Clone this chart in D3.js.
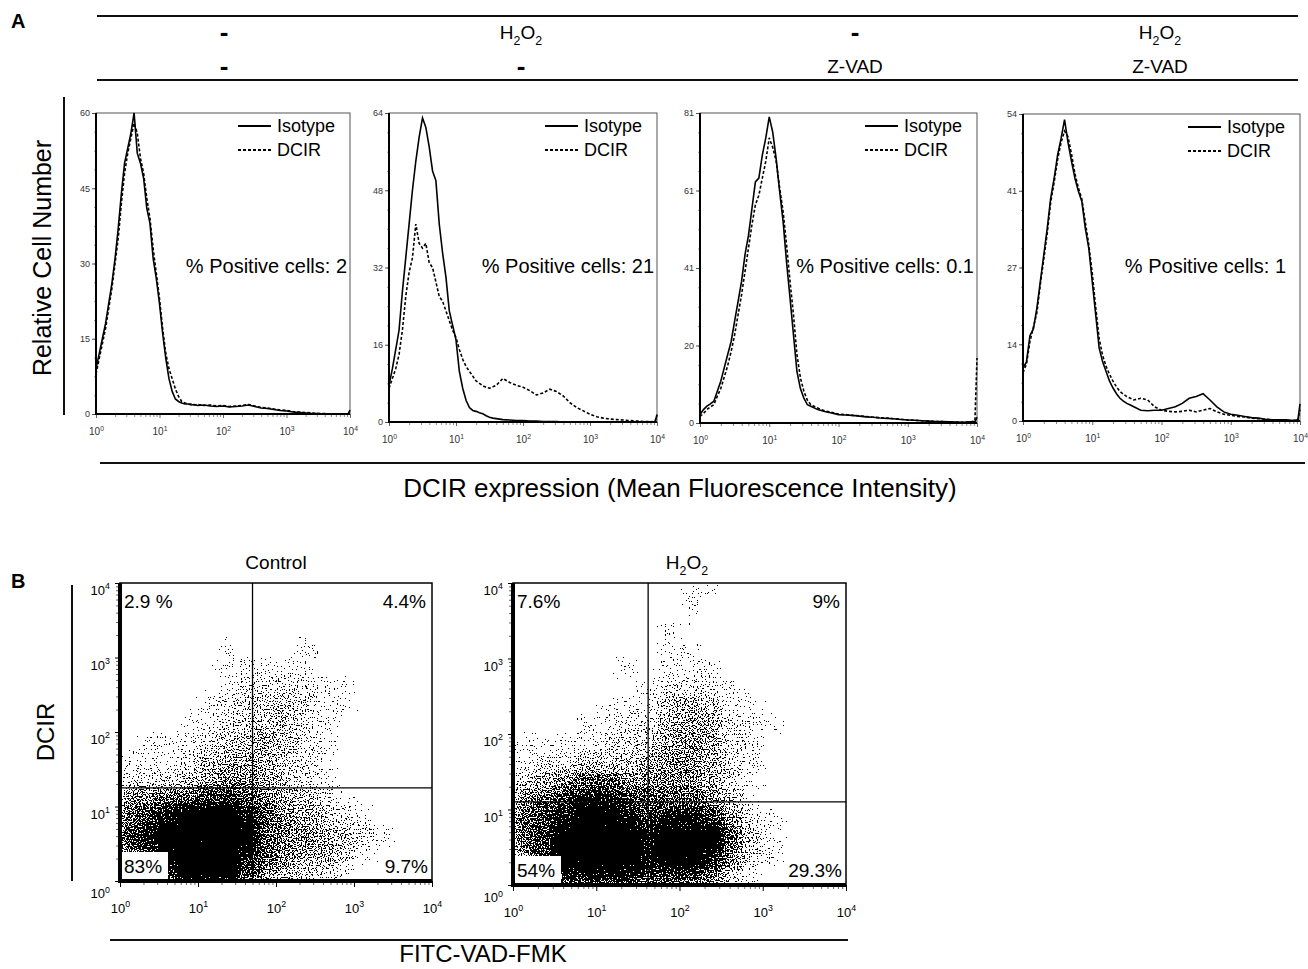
<!DOCTYPE html>
<html>
<head>
<meta charset="utf-8">
<script src="https://cdn.jsdelivr.net/npm/d3@7"></script>
<style>
  body { margin: 0; background: #fff; }
  svg { font-family: "Liberation Sans", Arial, sans-serif; }
</style>
</head>
<body>
<script>
const W = 1308, H = 969;

// ---------- data ----------
// histogram x positions, as log10 of intensity
const histLogX = [0,0.05,0.1,0.15,0.2,0.25,0.3,0.35,0.4,0.45,0.5,0.55,0.6,0.65,0.7,0.75,0.8,0.85,0.9,0.95,1.0,1.05,1.1,1.15,1.2,1.25,1.3,1.35,1.4,1.45,1.5,1.55,1.6,
  1.7,1.8,1.9,2.0,2.1,2.2,2.3,2.4,2.5,2.6,2.7,2.8,2.9,3.0,3.1,3.2,3.3,3.4,3.5,3.6,3.7,3.8,3.9,
  3.97,4.0];

const isoCtrl = [9,12,15,18,22,26,31,37,44,50,53,56,60,52,50,47,41,38,31,27,22,16,11,7,4.5,3,2.5,2.2,2,2,1.8,1.9,1.7,
  1.8,1.6,1.5,1.6,1.4,1.5,1.6,1.8,1.5,1.2,1.1,0.9,0.7,0.6,0.4,0.3,0.2,0.1,0.1,0,0,0,0,
  0,0.8];
const dcirCtrl = [8,11,14,17,21,25,30,35,42,48,52,55,58,56,51,48,43,39,33,28,23,17,12,9,7,5,3.5,2.5,2.2,2,2,1.8,1.9,
  1.7,1.8,1.6,1.7,1.5,1.6,1.7,1.9,1.6,1.3,1.2,1.0,0.8,0.7,0.5,0.4,0.3,0.2,0.1,0.1,0,0,0,
  0,0.6];
const isoH2O2 = [7.6,11,15,19,27,34,41,48,54,59,63,61,57,52,50,41,35,30,23,20,17,10.5,7,4.5,3,2.4,2.2,1.9,1.7,1.3,1.0,0.8,0.7,
  0.5,0.4,0.3,0.3,0.2,0.2,0.1,0.1,0.1,0,0,0,0,0,0,0,0,0,0,0,0,0,0,
  0,1.5];
const dcirH2O2 = [7,9,11,14,19,26,31,34,41,37,36,37,33,32,29,26,25,23,21,19,17.5,15,13,11.5,10.5,9.5,8.5,8,7.5,7.2,7,7.3,7.6,
  9,8.2,7.6,7.2,6.5,5.6,6,6.8,6.3,5.4,4,3,2.3,1.6,1.1,0.8,0.6,0.5,0.4,0.3,0.2,0.1,0.1,
  0,1.5];
const isoZvad = [2.2,3.5,4.4,5,5.7,8.3,10.9,14.4,17.9,21.3,26.6,31.8,37,44,49,56,63,64,70,74.5,80,76,69,60.5,52.7,42,32.7,23,13.5,9,6.5,4.8,4.4,
  3.5,3,2.6,2.2,2.1,2,1.8,1.6,1.5,1.3,1.2,1.1,0.9,0.8,0.7,0.6,0.5,0.4,0.35,0.3,0.25,0.2,0.3,
  0.3,1.5];
const dcirZvad = [1.7,2.5,3.5,4.2,4.8,7,9,12,15,18.7,23,28.3,33.5,39.6,45.7,51.8,57,59.5,64,68.4,74.5,72,68.4,61.4,55.3,46.6,37,28.3,17.9,11.8,8.3,6,4.8,
  3.9,3.2,2.8,2.3,2.2,2.0,1.9,1.7,1.5,1.4,1.3,1.1,1.0,0.8,0.7,0.6,0.5,0.4,0.35,0.3,0.25,0.2,0.3,
  0.5,17];
const isoBoth = [9.3,10.4,15,16.2,19.8,24.5,29.2,33.9,39.2,42.7,46.8,49.7,53,49,45.7,42.7,40.4,38.6,33.9,30.4,24.5,18.7,12.8,10.4,8.7,7,5.8,4.8,4,3.5,3.1,2.8,2.5,
  1.9,1.8,1.9,1.9,2.2,2.5,3.1,4,4.3,4.8,3.7,2.5,1.6,1.2,1.0,0.8,0.6,0.5,0.3,0.2,0.2,0.2,0.1,
  0.2,3];
const dcirBoth = [8.5,10,14,16.5,19,24,28.5,33,38.5,42,46,49,51,50,47,43.5,41,39,35,31,26,20,14.5,11.5,9.6,8.2,7,6,5.2,4.7,4.3,4,3.7,
  4,3.7,2.5,1.9,1.7,1.6,1.7,1.9,1.6,1.9,2.2,1.6,1.2,1.0,0.8,0.7,0.5,0.4,0.3,0.2,0.2,0.1,0.1,
  0.2,2];

const isotypeSeries = [isoCtrl, isoH2O2, isoZvad, isoBoth];
const dcirSeries = [dcirCtrl, dcirH2O2, dcirZvad, dcirBoth];
const histMax = [60, 64, 81, 54];
const histYLabels = [["0","15","30","45","60"], ["0","16","32","48","64"], ["0","20","41","61","81"], ["0","14","27","41","54"]];
const positiveCells = ["2", "21", "0.1", "1"];
const treatRow1 = ["-", "H2O2", "-", "H2O2"];
const treatRow2 = ["-", "-", "Z-VAD", "Z-VAD"];

// scatter density, 0.25-decade cells, rows from top (10^4) to bottom (10^0), levels 0-9
const controlDensity = [
  [0,0,0,0,0,0,0,0,0,0,0,0,0,0,0,0],
  [0,0,0,0,0,0,0,0,0,0,0,0,0,0,0,0],
  [0,0,0,0,0,0,0,0,0,0,0,0,0,0,0,0],
  [0,0,0,0,0,1,0,0,0,1,0,0,0,0,0,0],
  [0,0,0,0,0,1,1,1,1,1,0,0,0,0,0,0],
  [0,0,0,0,0,1,2,2,2,2,1,1,0,0,0,0],
  [0,0,0,0,1,2,2,3,3,2,1,1,0,0,0,0],
  [0,0,0,1,1,2,3,3,3,2,1,0,0,0,0,0],
  [0,1,1,1,2,3,3,4,3,2,1,0,0,0,0,0],
  [1,1,1,2,3,4,4,4,3,2,1,0,0,0,0,0],
  [2,2,2,3,4,5,5,4,3,2,1,0,0,0,0,0],
  [5,5,6,6,7,7,6,5,4,3,2,1,0,0,0,0],
  [6,7,8,9,9,9,8,6,5,4,3,2,1,0,0,0],
  [7,8,9,9,9,9,9,6,5,5,4,3,2,1,0,0],
  [6,7,9,9,9,9,8,6,5,4,4,3,1,0,0,0],
  [5,6,8,9,9,9,7,5,4,3,2,1,0,0,0,0]
];
const h2o2Density = [
  [0,0,0,0,0,0,0,0,1,1,0,0,0,0,0,0],
  [0,0,0,0,0,0,0,0,1,0,0,0,0,0,0,0],
  [0,0,0,0,0,0,0,1,0,0,0,0,0,0,0,0],
  [0,0,0,0,0,0,0,1,1,0,0,0,0,0,0,0],
  [0,0,0,0,0,1,0,1,1,1,0,0,0,0,0,0],
  [0,0,0,0,0,0,1,2,2,2,1,0,0,0,0,0],
  [0,0,0,0,1,1,1,3,4,3,1,1,0,0,0,0],
  [0,0,0,1,1,2,2,4,4,4,2,1,1,0,0,0],
  [1,1,1,1,2,2,3,4,5,4,2,1,0,0,0,0],
  [1,2,2,3,3,3,4,5,5,4,2,1,0,0,0,0],
  [3,4,5,6,6,5,5,5,5,4,2,1,0,0,0,0],
  [5,6,7,8,8,7,6,6,6,5,3,1,0,0,0,0],
  [6,7,8,9,9,8,7,8,8,7,5,2,1,0,0,0],
  [6,7,9,9,9,9,8,9,9,9,6,3,1,0,0,0],
  [5,7,9,9,9,9,8,9,9,8,5,2,1,0,0,0],
  [4,5,8,8,8,8,7,7,7,6,3,1,0,0,0,0]
];
const scatterDensity = [controlDensity, h2o2Density];
const scatterTitles = ["Control", "H2O2"];
const gateX = [50, 42];       // FITC-VAD-FMK gate
const gateY = [17.8, 12.6];   // DCIR gate
const quadLabels = [["2.9 %", "4.4%", "83%", "9.7%"], ["7.6%", "9%", "54%", "29.3%"]];
const decades = [1, 10, 100, 1000, 10000];

// ---------- layout ----------
const histPanels = [
  {left: 96, right: 350, top: 113, bottom: 414, head: 224},
  {left: 389, right: 657, top: 113, bottom: 422, head: 521},
  {left: 700, right: 977, top: 113, bottom: 423, head: 855},
  {left: 1023, right: 1300, top: 114, bottom: 421, head: 1160}
];
const scatterPanels = [
  {left: 120, right: 432, top: 583, bottom: 881, titleX: 276},
  {left: 513, right: 846, top: 583, bottom: 885, titleX: 687}
];

const svg = d3.select("body").append("svg")
  .attr("width", W)
  .attr("height", H);

const minorTicks = [];
for (let e = 0; e < 4; e++) for (let m = 2; m <= 9; m++) minorTicks.push(m * Math.pow(10, e));

// text with subscript digits (H2O2)
function subText(sel, str, fs) {
  let low = false;
  for (const ch of str) {
    const digit = /\d/.test(ch);
    const t = sel.append("tspan").text(ch);
    if (digit) t.attr("font-size", fs * 0.65);
    if (digit && !low) { t.attr("dy", fs * 0.3); low = true; }
    else if (!digit && low) { t.attr("dy", -fs * 0.3); low = false; }
  }
}
// 10 with superscript exponent
function powLabel(sel, d, fs) {
  sel.text(null);
  sel.append("tspan").text("10");
  sel.append("tspan").attr("dy", -fs * 0.45).attr("font-size", fs * 0.68).text(Math.round(Math.log10(d)));
}

// ---------- panel A header ----------
svg.append("text").attr("x", 11).attr("y", 28).attr("font-size", 20).attr("font-weight", "bold").text("A");
[16, 80].forEach(yy => svg.append("line")
  .attr("x1", 97).attr("x2", 1298).attr("y1", yy).attr("y2", yy)
  .attr("stroke", "#111").attr("stroke-width", 2));

histPanels.forEach((p, i) => {
  [[treatRow1[i], 39], [treatRow2[i], 73]].forEach(([lab, yy]) => {
    const t = svg.append("text").attr("x", p.head).attr("y", yy).attr("text-anchor", "middle");
    if (lab === "-") t.attr("font-size", 26).attr("font-weight", "bold").attr("dy", 2).text("-");
    else { t.attr("font-size", 19); subText(t, lab, 19); }
  });
});

// ---------- histograms ----------
svg.append("line").attr("x1", 64).attr("x2", 64).attr("y1", 97).attr("y2", 415)
  .attr("stroke", "#111").attr("stroke-width", 2);
svg.append("text")
  .attr("transform", "translate(51,258) rotate(-90)")
  .attr("text-anchor", "middle")
  .attr("font-size", 25)
  .text("Relative Cell Number");

histPanels.forEach((p, i) => {
  const x = d3.scaleLog().domain([1, 1e4]).range([p.left, p.right]);
  const y = d3.scaleLinear().domain([0, histMax[i]]).range([p.bottom, p.top]);
  const g = svg.append("g");

  // minor x ticks
  g.append("g")
    .attr("transform", `translate(0,${p.bottom})`)
    .call(d3.axisBottom(x).tickValues(minorTicks).tickSize(3).tickFormat(""))
    .call(a => a.select(".domain").remove())
    .selectAll("line").attr("stroke", "#888");
  // major x ticks
  const xa = g.append("g")
    .attr("transform", `translate(0,${p.bottom})`)
    .call(d3.axisBottom(x).tickValues(decades).tickSize(4).tickPadding(10).tickFormat(""));
  xa.select(".domain").remove();
  xa.selectAll(".tick line").attr("stroke", "#666");
  xa.selectAll(".tick text")
    .attr("font-family", "Liberation Sans, Arial, sans-serif")
    .attr("font-size", 10).attr("fill", "#333")
    .each(function(d) { powLabel(d3.select(this), d, 10); });

  // y ticks: quarters labelled, sixteenths as small marks
  const yMinor = d3.range(17).map(k => histMax[i] * k / 16);
  g.append("g")
    .attr("transform", `translate(${p.left},0)`)
    .call(d3.axisLeft(y).tickValues(yMinor).tickSize(2).tickFormat(""))
    .call(a => a.select(".domain").remove())
    .selectAll("line").attr("stroke", "#999");
  const ya = g.append("g")
    .attr("transform", `translate(${p.left},0)`)
    .call(d3.axisLeft(y).tickValues(d3.range(5).map(k => histMax[i] * k / 4))
      .tickSize(4).tickPadding(2).tickFormat((d, k) => histYLabels[i][k]));
  ya.select(".domain").remove();
  ya.selectAll(".tick line").attr("stroke", "#555");
  ya.selectAll(".tick text")
    .attr("font-family", "Liberation Sans, Arial, sans-serif")
    .attr("font-size", 9).attr("fill", "#333");

  // frame: thin top/right, heavier left/bottom
  g.append("rect")
    .attr("x", p.left).attr("y", p.top)
    .attr("width", p.right - p.left).attr("height", p.bottom - p.top)
    .attr("fill", "none").attr("stroke", "#555").attr("stroke-width", 1);
  g.append("path")
    .attr("d", `M${p.left},${p.top}V${p.bottom}H${p.right}`)
    .attr("fill", "none").attr("stroke", "#000").attr("stroke-width", 2);

  const line = d3.line()
    .x(d => x(Math.pow(10, d[0])))
    .y(d => y(d[1]));
  g.append("path")
    .datum(d3.zip(histLogX, dcirSeries[i]))
    .attr("d", line)
    .attr("fill", "none").attr("stroke", "#000").attr("stroke-width", 1.6)
    .attr("stroke-dasharray", "3,2");
  g.append("path")
    .datum(d3.zip(histLogX, isotypeSeries[i]))
    .attr("d", line)
    .attr("fill", "none").attr("stroke", "#000").attr("stroke-width", 1.6);

  // legend
  const lx = p.right - 112;
  [["Isotype", null, p.top + 13], ["DCIR", "3,2", p.top + 37]].forEach(([lab, dash, ly]) => {
    g.append("line").attr("x1", lx).attr("x2", lx + 33).attr("y1", ly).attr("y2", ly)
      .attr("stroke", "#000").attr("stroke-width", 1.8).attr("stroke-dasharray", dash);
    g.append("text").attr("x", lx + 39).attr("y", ly + 6).attr("font-size", 18).text(lab);
  });

  g.append("text")
    .attr("x", p.right - (i === 3 ? 14 : 3)).attr("y", 273)
    .attr("text-anchor", "end").attr("font-size", 20)
    .text("% Positive cells: " + positiveCells[i]);
});

svg.append("line").attr("x1", 100).attr("x2", 1305).attr("y1", 463).attr("y2", 463)
  .attr("stroke", "#111").attr("stroke-width", 2);
svg.append("text").attr("x", 680).attr("y", 497).attr("text-anchor", "middle")
  .attr("font-size", 26).text("DCIR expression (Mean Fluorescence Intensity)");

// ---------- panel B: dot plots ----------
svg.append("text").attr("x", 11).attr("y", 588).attr("font-size", 20).attr("font-weight", "bold").text("B");
svg.append("line").attr("x1", 72).attr("x2", 72).attr("y1", 585).attr("y2", 881)
  .attr("stroke", "#111").attr("stroke-width", 2);
svg.append("text")
  .attr("transform", "translate(54,732) rotate(-90)")
  .attr("text-anchor", "middle").attr("font-size", 24).text("DCIR");
svg.append("line").attr("x1", 110).attr("x2", 848).attr("y1", 940).attr("y2", 940)
  .attr("stroke", "#111").attr("stroke-width", 2);
svg.append("text").attr("x", 483).attr("y", 962).attr("text-anchor", "middle")
  .attr("font-size", 24).text("FITC-VAD-FMK");

const defs = svg.append("defs");
// density level -> opacity before the speckle threshold
const level = d3.scaleLinear()
  .domain([0, 1, 2, 3, 4, 5, 6, 7, 8, 9])
  .range([0, 0.17, 0.245, 0.31, 0.38, 0.455, 0.53, 0.62, 0.76, 1]);

scatterPanels.forEach((p, i) => {
  const x = d3.scaleLog().domain([1, 1e4]).range([p.left, p.right]);
  const y = d3.scaleLog().domain([1, 1e4]).range([p.bottom, p.top]);
  const g = svg.append("g");

  // speckle filter: blurred density thresholded against a noise texture
  const f = defs.append("filter").attr("id", "speckle" + i)
    .attr("filterUnits", "userSpaceOnUse")
    .attr("x", p.left).attr("y", p.top)
    .attr("width", p.right - p.left).attr("height", p.bottom - p.top)
    .attr("color-interpolation-filters", "sRGB");
  f.append("feGaussianBlur").attr("in", "SourceGraphic").attr("stdDeviation", 5)
    .attr("edgeMode", "duplicate").attr("result", "dens");
  f.append("feTurbulence").attr("type", "fractalNoise").attr("baseFrequency", 0.75)
    .attr("numOctaves", 1).attr("seed", 5 + i).attr("result", "noise");
  f.append("feColorMatrix").attr("in", "noise").attr("type", "matrix")
    .attr("values", "0 0 0 0 0  0 0 0 0 0  0 0 0 0 0  1 0 0 0 0").attr("result", "nRaw");
  // widen the noise spread so coverage follows density more gradually
  f.append("feComponentTransfer").attr("in", "nRaw").attr("result", "nA")
    .append("feFuncA").attr("type", "linear").attr("slope", 1.82).attr("intercept", -0.455);
  f.append("feComposite").attr("in", "dens").attr("in2", "nA").attr("operator", "arithmetic")
    .attr("k1", 0).attr("k2", 1).attr("k3", -1).attr("k4", 0.48).attr("result", "diff");
  const ct = f.append("feComponentTransfer").attr("in", "diff");
  ["feFuncR", "feFuncG", "feFuncB"].forEach(fn => ct.append(fn).attr("type", "linear").attr("slope", 0).attr("intercept", 0));
  ct.append("feFuncA").attr("type", "discrete").attr("tableValues", "0 1");

  const cells = [];
  scatterDensity[i].forEach((row, r) => row.forEach((v, c) => {
    cells.push({c, r: 15 - r, v});
  }));
  g.append("g").attr("filter", `url(#speckle${i})`)
    .selectAll("rect")
    .data(cells)
    .join("rect")
    .attr("x", d => x(Math.pow(10, d.c / 4)))
    .attr("width", d => x(Math.pow(10, (d.c + 1) / 4)) - x(Math.pow(10, d.c / 4)) + 0.5)
    .attr("y", d => y(Math.pow(10, (d.r + 1) / 4)))
    .attr("height", d => y(Math.pow(10, d.r / 4)) - y(Math.pow(10, (d.r + 1) / 4)) + 0.5)
    .attr("fill", "#000")
    .attr("fill-opacity", d => level(d.v));

  // quadrant gates
  g.append("line").attr("x1", x(gateX[i])).attr("x2", x(gateX[i]))
    .attr("y1", p.top).attr("y2", p.bottom).attr("stroke", "#000").attr("stroke-width", 1.3);
  g.append("line").attr("x1", p.left).attr("x2", p.right)
    .attr("y1", y(gateY[i])).attr("y2", y(gateY[i])).attr("stroke", "#000").attr("stroke-width", 1.3);

  // frame
  g.append("rect")
    .attr("x", p.left).attr("y", p.top)
    .attr("width", p.right - p.left).attr("height", p.bottom - p.top)
    .attr("fill", "none").attr("stroke", "#000").attr("stroke-width", 1.5);

  // axes
  g.append("g").attr("transform", `translate(0,${p.bottom})`)
    .call(d3.axisBottom(x).tickValues(minorTicks).tickSize(4).tickFormat(""))
    .call(a => a.select(".domain").remove())
    .selectAll("line").attr("stroke", "#666");
  const xa = g.append("g").attr("transform", `translate(0,${p.bottom})`)
    .call(d3.axisBottom(x).tickValues(decades).tickSize(6).tickPadding(17).tickFormat(""));
  xa.select(".domain").remove();
  xa.selectAll(".tick text")
    .attr("font-family", "Liberation Sans, Arial, sans-serif")
    .attr("font-size", 13).attr("fill", "#000")
    .each(function(d) { powLabel(d3.select(this), d, 13); });

  g.append("g").attr("transform", `translate(${p.left},0)`)
    .call(d3.axisLeft(y).tickValues(minorTicks).tickSize(4).tickFormat(""))
    .call(a => a.select(".domain").remove())
    .selectAll("line").attr("stroke", "#666");
  const ya = g.append("g").attr("transform", `translate(${p.left},0)`)
    .call(d3.axisLeft(y).tickValues(decades).tickSize(5).tickPadding(5).tickFormat(""));
  ya.select(".domain").remove();
  ya.selectAll(".tick text")
    .attr("font-family", "Liberation Sans, Arial, sans-serif")
    .attr("font-size", 13).attr("fill", "#000")
    .attr("dy", d => d === 1 ? "1.3em" : "0.9em")
    .each(function(d) { powLabel(d3.select(this), d, 13); });

  g.append("path")
    .attr("d", `M${p.left},${p.top}V${p.bottom}H${p.right}`)
    .attr("fill", "none").attr("stroke", "#000").attr("stroke-width", 4);

  // quadrant percentages
  const q = quadLabels[i];
  g.append("rect").attr("x", p.left + 2).attr("y", p.bottom - 29)
    .attr("width", 46).attr("height", 27).attr("fill", "#fff");
  g.append("text").attr("x", p.left + 4).attr("y", p.top + 25).attr("font-size", 19).text(q[0]);
  g.append("text").attr("x", p.right - 6).attr("y", p.top + 25).attr("text-anchor", "end").attr("font-size", 19).text(q[1]);
  g.append("text").attr("x", p.left + 4).attr("y", p.bottom - 8).attr("font-size", 19).text(q[2]);
  g.append("text").attr("x", p.right - 4).attr("y", p.bottom - 8).attr("text-anchor", "end").attr("font-size", 19).text(q[3]);

  const t = svg.append("text").attr("x", p.titleX).attr("y", 569)
    .attr("text-anchor", "middle").attr("font-size", 19);
  subText(t, scatterTitles[i], 19);
});
</script>
</body>
</html>
